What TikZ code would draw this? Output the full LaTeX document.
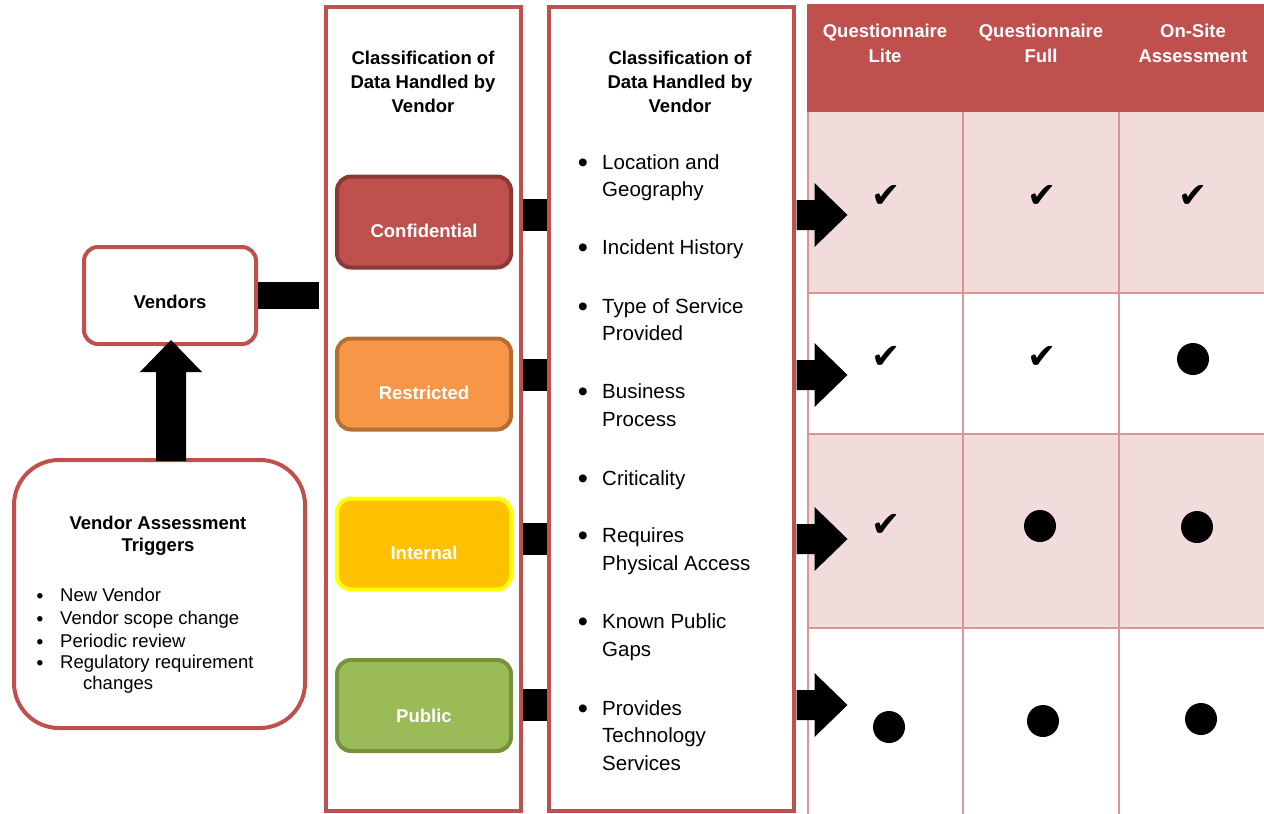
\documentclass[tikz,border=0pt]{standalone}
\usepackage{fontspec}
\setmainfont{Liberation Sans}
\newfontfamily\symfont{DejaVu Sans}
\definecolor{myred}{HTML}{C0504D}
\definecolor{confb}{HTML}{8C3836}
\definecolor{restf}{HTML}{F79646}
\definecolor{restb}{HTML}{B66D31}
\definecolor{intf}{HTML}{FFC000}
\definecolor{intb}{HTML}{FFFF00}
\definecolor{pubf}{HTML}{9BBB59}
\definecolor{pubb}{HTML}{76923C}
\definecolor{pinkf}{HTML}{F2DCDB}
\definecolor{gridc}{HTML}{D99694}
\begin{document}
\begin{tikzpicture}[x=1pt,y=-1pt,
  redbox/.style={draw=myred, line width=4pt, fill=white, inner sep=0pt, rectangle},
  colbox/.style={draw=myred, line width=4pt, inner sep=0pt, rectangle},
  lvlbox/.style={line width=4pt, rounded corners=14pt, inner sep=0pt, rectangle, minimum width=174pt, minimum height=91pt},
  boldtxt/.style={font=\bfseries\fontsize{18.5}{22}\selectfont, inner sep=0pt, anchor=base},
  lvltxt/.style={boldtxt, text=white},
  hdrtxt/.style={boldtxt, text=white},
  bodytxt/.style={font=\fontsize{20.5}{27}\selectfont, inner sep=0pt, anchor=base west},
  trtxt/.style={font=\fontsize{18.5}{22}\selectfont, inner sep=0pt, anchor=base west},
  bul20/.style={font=\fontsize{29}{29}\selectfont, inner sep=0pt, anchor=base, text height=13pt, text depth=0pt},
  bul18/.style={font=\bfseries\fontsize{19}{19}\selectfont, inner sep=0pt, anchor=base},
  conn/.style={line width=32pt, draw=black},
  tick/.style={font=\symfont\fontsize{35}{35}\selectfont, inner sep=0pt},
  dotmark/.style={circle, fill=black, minimum size=32pt, inner sep=0pt}
]
\useasboundingbox (0,0) rectangle (1264,814);

% ---------- table ----------
\fill[myred] (807,4) rectangle (1264,112);
\fill[pinkf] (808,112) rectangle (1264,293);
\fill[pinkf] (808,434) rectangle (1264,628);
\foreach \xx in {808,963,1119} \draw[gridc, line width=2pt] (\xx,112) -- (\xx,814);
\foreach \yy in {293,434,628} \draw[gridc, line width=2pt] (808,\yy) -- (1264,\yy);

\node[hdrtxt] (h1a) at (885,37.7) {Questionnaire};
\node[hdrtxt] (h1b) at (885,62.7) {Lite};
\node[hdrtxt] (h2a) at (1041,37.7) {Questionnaire};
\node[hdrtxt] (h2b) at (1041,62.7) {Full};
\node[hdrtxt] (h3a) at (1193,37.7) {On-Site};
\node[hdrtxt] (h3b) at (1193,62.7) {Assessment};

\node[tick] (t11) at (886,196) {✔};
\node[tick] (t12) at (1042,196) {✔};
\node[tick] (t13) at (1193,196) {✔};
\node[tick] (t21) at (886,357) {✔};
\node[tick] (t22) at (1042,357) {✔};
\node[dotmark] (d23) at (1193,359) {};
\node[tick] (t31) at (886,525) {✔};
\node[dotmark] (d32) at (1040,526) {};
\node[dotmark] (d33) at (1197,527) {};
\node[dotmark] (d41) at (889,727) {};
\node[dotmark] (d42) at (1043,721) {};
\node[dotmark] (d43) at (1201,719) {};

% ---------- columns ----------
\node[colbox, minimum width=194.5pt, minimum height=804pt] (col1) at (423.25,409) {};
\node[colbox, minimum width=244.5pt, minimum height=804pt] (col2) at (671.25,409) {};

\node[boldtxt] (c1t1) at (423,64.7) {Classification of};
\node[boldtxt] (c1t2) at (423,88.7) {Data Handled by};
\node[boldtxt] (c1t3) at (423,112.7) {Vendor};
\node[boldtxt] (c2t1) at (680,64.7) {Classification of};
\node[boldtxt] (c2t2) at (680,88.7) {Data Handled by};
\node[boldtxt] (c2t3) at (680,112.7) {Vendor};

% level boxes
\node[lvlbox, draw=confb, fill=myred] (conf) at (424,222) {};
\node[lvlbox, draw=restb, fill=restf] (rest) at (424,384) {};
\node[lvlbox, draw=intb, fill=intf] (intl) at (424,544) {};
\node[lvlbox, draw=pubb, fill=pubf] (publ) at (424,705.5) {};
\node[lvltxt] (confT) at (424,237.7) {Confidential};
\node[lvltxt] (restT) at (424,399.7) {Restricted};
\node[lvltxt] (intlT) at (424,559.7) {Internal};
\node[lvltxt] (publT) at (424,722.7) {Public};

% row reference coordinates
\coordinate (r1) at (0,215);
\coordinate (r2) at (0,375);
\coordinate (r3) at (0,539);
\coordinate (r4) at (0,705);
\foreach \r in {r1,r2,r3,r4}{
  \draw[conn] (col1.east |- \r) -- (col2.west |- \r);
  \fill[black] (col2.east |- \r) ++(1,-15) -- ++(18,0) -- ++(0,-17) -- ++(33,32) -- ++(-33,32) -- ++(0,-17) -- ++(-18,0) -- cycle;
}

% column 2 bullet list
\foreach \t/\yy [count=\i] in {Location and/162, Geography/189, Incident History/247, Type of Service/306, Provided/333, Business/391, Process/419, Criticality/478, Requires/535, Physical Access/563, Known Public/621, Gaps/649, Provides/708, Technology/735, Services/763}
  \node[bodytxt] (c2l\i) at (602,\yy+7.4) {\t};
\foreach \yy [count=\i] in {162,247,306,391,478,535,621,708}
  \node[bul20] (c2b\i) at (583,\yy+10.3) {\textbullet};

% ---------- vendors ----------
\node[redbox, rounded corners=14pt, minimum width=172pt, minimum height=97pt] (vend) at (170,295.5) {};
\node[boldtxt] (vendT) at (170,308.7) {Vendors};
\coordinate (vc) at (319,295.5);
\draw[line width=27pt, rounded corners=2pt] (vend.east) -- (vc);

% ---------- triggers ----------
\node[redbox, rounded corners=45pt, minimum width=291pt, minimum height=268pt] (trig) at (159.5,594) {};
\node[boldtxt] (trT1) at (158,529.7) {Vendor Assessment};
\node[boldtxt] (trT2) at (158,551.7) {Triggers};
\foreach \t/\yy [count=\i] in {New Vendor/595, Vendor scope change/618, Periodic review/641, Regulatory requirement/662}{
  \node[trtxt] (trl\i) at (60,\yy+6.7) {\t};
  \node[bul18] (trb\i) at (40,\yy+7) {\textbullet};
}
\node[trtxt] (trl5) at (83,689.7) {changes};

% up arrow from triggers to vendors
\coordinate (ua) at (171,461);
\fill[black] (ua) ++(-15,0) -- ++(0,-89) -- ++(-16,0) -- (171,340) -- (202,372) -- ++(-16,0) -- (186,461) -- cycle;
\end{tikzpicture}
\end{document}
